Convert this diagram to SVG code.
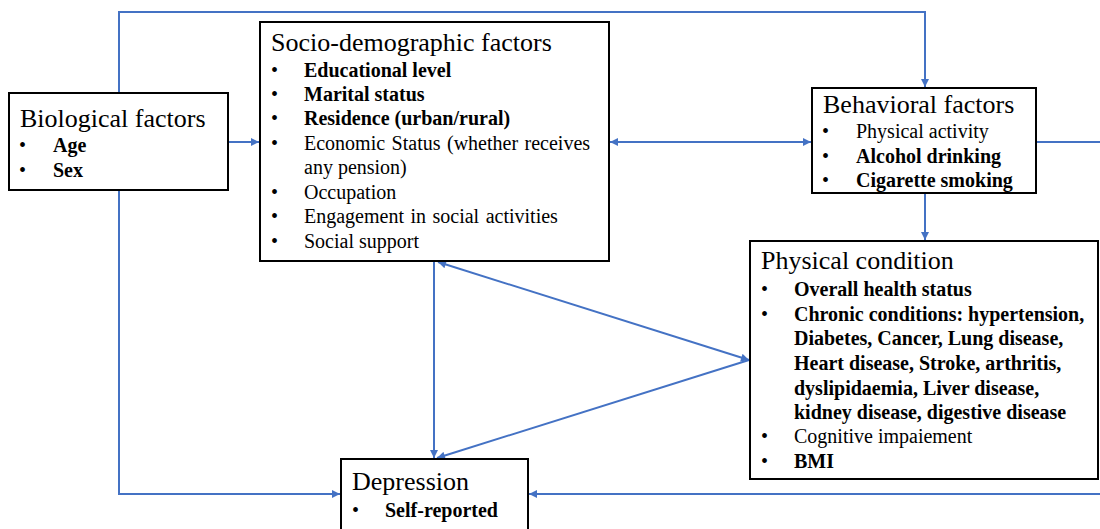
<svg xmlns="http://www.w3.org/2000/svg" width="1100" height="529" viewBox="0 0 1100 529">
<style>
.box{fill:#fff;stroke:#000;stroke-width:2}
.t{font-family:"Liberation Serif","Times New Roman",serif;font-size:26px;fill:#000}
.i{font-family:"Liberation Serif","Times New Roman",serif;font-size:20px;fill:#000}
.b{font-weight:bold}
.c{fill:none;stroke:#4472C4;stroke-width:2}
</style>
<defs>
<marker id="ah" viewBox="0 0 10 10" refX="10" refY="5" markerWidth="9" markerHeight="8" markerUnits="userSpaceOnUse" orient="auto-start-reverse">
<path d="M0,0 L10,5 L0,10 z" fill="#4472C4"/>
</marker>
</defs>
<g id="connectors">
<polyline class="c" points="119,93 119,12 925,12 925,87" marker-end="url(#ah)"/>
<line class="c" x1="228" y1="142" x2="259" y2="142" marker-end="url(#ah)"/>
<polyline class="c" points="119,190 119,494 340,494" marker-end="url(#ah)"/>
<line class="c" x1="610" y1="142" x2="811" y2="142" marker-start="url(#ah)" marker-end="url(#ah)"/>
<polyline class="c" points="1100,142 1036,142"/>
<line class="c" x1="1100" y1="494" x2="529" y2="494" marker-end="url(#ah)"/>
<line class="c" x1="925" y1="193" x2="925" y2="240" marker-end="url(#ah)"/>
<line class="c" x1="434" y1="262" x2="434" y2="458" marker-end="url(#ah)"/>
<line class="c" x1="438" y1="262" x2="749" y2="360" marker-start="url(#ah)" marker-end="url(#ah)"/>
<line class="c" x1="749" y1="360" x2="437" y2="458" marker-end="url(#ah)"/>
</g>
<g id="biological">
<rect class="box" x="9" y="93" width="219" height="97"/>
<text class="t" x="20" y="127">Biological factors</text>
<text class="i" x="19" y="152">•</text><text class="i b" x="53" y="152">Age</text>
<text class="i" x="19" y="177">•</text><text class="i b" x="53" y="177">Sex</text>
</g>
<g id="socio">
<rect class="box" x="260" y="22" width="349" height="239"/>
<text class="t" x="271" y="51">Socio-demographic factors</text>
<text class="i" x="271" y="77">•</text><text class="i b" x="304" y="77">Educational level</text>
<text class="i" x="271" y="101">•</text><text class="i b" x="304" y="101">Marital status</text>
<text class="i" x="271" y="125">•</text><text class="i b" x="304" y="125">Residence (urban/rural)</text>
<text class="i" x="271" y="150">•</text><text class="i" x="304" y="150" word-spacing="1.5">Economic Status (whether receives</text>
<text class="i" x="304" y="174">any pension)</text>
<text class="i" x="271" y="199">•</text><text class="i" x="304" y="199">Occupation</text>
<text class="i" x="271" y="223">•</text><text class="i" x="304" y="223" word-spacing="1.5">Engagement in social activities</text>
<text class="i" x="271" y="248">•</text><text class="i" x="304" y="248">Social support</text>
</g>
<g id="behavioral">
<rect class="box" x="812" y="88" width="224" height="105"/>
<text class="t" x="823" y="113">Behavioral factors</text>
<text class="i" x="822" y="138">•</text><text class="i" x="856" y="138" font-size="19">Physical activity</text>
<text class="i" x="822" y="163">•</text><text class="i b" x="856" y="163">Alcohol drinking</text>
<text class="i" x="822" y="187">•</text><text class="i b" x="856" y="187">Cigarette smoking</text>
</g>
<g id="physical">
<rect class="box" x="750" y="241" width="348" height="238"/>
<text class="t" x="761" y="269">Physical condition</text>
<text class="i" x="761" y="296">•</text><text class="i b" x="794" y="296">Overall health status</text>
<text class="i" x="761" y="321">•</text><text class="i b" x="794" y="321">Chronic conditions: hypertension,</text>
<text class="i b" x="794" y="345">Diabetes, Cancer, Lung disease,</text>
<text class="i b" x="794" y="370">Heart disease, Stroke, arthritis,</text>
<text class="i b" x="794" y="395">dyslipidaemia, Liver disease,</text>
<text class="i b" x="794" y="419">kidney disease, digestive disease</text>
<text class="i" x="761" y="443">•</text><text class="i" x="794" y="443">Cognitive impaiement</text>
<text class="i" x="761" y="468">•</text><text class="i b" x="794" y="468">BMI</text>
</g>
<g id="depression">
<rect class="box" x="341" y="459" width="187" height="75"/>
<text class="t" x="352" y="490">Depression</text>
<text class="i" x="352" y="517">•</text><text class="i b" x="385" y="517">Self-reported</text>
</g>
</svg>
